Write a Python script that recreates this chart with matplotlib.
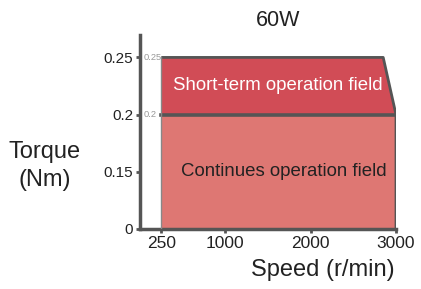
import matplotlib
matplotlib.use("Agg")
import matplotlib.pyplot as plt
from matplotlib.patches import Polygon

plt.rcParams["font.family"] = ["Liberation Sans", "DejaVu Sans"]

# data
speed_min = 250
speed_max = 3000
speed_corner = 2850
torque_cont = 0.2
torque_peak = 0.25
axis_floor = 0.1  # axis is broken: bottom tick shows 0
x_ticks = [250, 1000, 2000, 3000]
y_ticks = [0.1, 0.15, 0.2, 0.25]
y_tick_labels = ["0", "0.15", "0.2", "0.25"]

edge = "#555555"
c_cont = "#de7773"
c_peak = "#d14c56"

fig = plt.figure(figsize=(4.21, 2.89), dpi=100)
ax = fig.add_axes([140 / 421, 1 - 229 / 289, 256 / 421, 194 / 289])
ax.set_xlim(0, speed_max)
ax.set_ylim(axis_floor, 0.2696)

# continuous field
cont = Polygon([(speed_min, axis_floor), (speed_min, torque_cont),
                (speed_max, torque_cont), (speed_max, axis_floor)],
               closed=True, facecolor=c_cont, edgecolor="none", zorder=2)
ax.add_patch(cont)
# short-term field
peak = Polygon([(speed_min, torque_cont), (speed_min, torque_peak),
                (speed_corner, torque_peak), (speed_max, torque_cont)],
               closed=True, facecolor=c_peak, edgecolor="none", zorder=2)
ax.add_patch(peak)

# outlines
ax.plot([speed_min, speed_corner, speed_max, speed_max],
        [torque_peak, torque_peak, torque_cont, axis_floor],
        color=edge, lw=2, zorder=3, solid_capstyle="butt")
ax.plot([speed_min, speed_max], [torque_cont, torque_cont],
        color=edge, lw=2.6, zorder=3)
ax.plot([speed_min, speed_min], [axis_floor, torque_peak],
        color="#888888", lw=1, zorder=3)

ax.text(1610, 0.2255, "Short-term operation field", color="white",
        fontsize=13.4, ha="center", va="center", zorder=4)
ax.text(1680, 0.15, "Continues operation field", color="#222222",
        fontsize=13.4, ha="center", va="center", zorder=4)

# small inner labels
ax.text(45, torque_peak, "0.25", color="#999999", fontsize=6.7,
        ha="left", va="center")
ax.text(45, torque_cont, "0.2", color="#999999", fontsize=6.7,
        ha="left", va="center")

for s in ["top", "right"]:
    ax.spines[s].set_visible(False)
for s in ["left", "bottom"]:
    ax.spines[s].set_color(edge)
    ax.spines[s].set_linewidth(2.5)

ax.set_xticks(x_ticks)
ax.set_yticks(y_ticks)
ax.set_yticklabels(y_tick_labels)
ax.tick_params(axis="both", length=3, width=2, color=edge,
               labelcolor="#222222", pad=2)
ax.tick_params(axis="x", labelsize=12.5)
ax.tick_params(axis="y", labelsize=11)

fig.text(278 / 421, 1 - 20 / 289, "60W", fontsize=15.5, ha="center",
         va="center", color="#222222")
fig.text(45 / 421, 1 - 166 / 289, "Torque\n(Nm)", fontsize=17, ha="center",
         va="center", color="#222222", linespacing=1.4)
fig.text(323 / 421, 1 - 270 / 289, "Speed (r/min)", fontsize=17,
         ha="center", va="center", color="#222222")

fig.savefig("out.png", dpi=100)
